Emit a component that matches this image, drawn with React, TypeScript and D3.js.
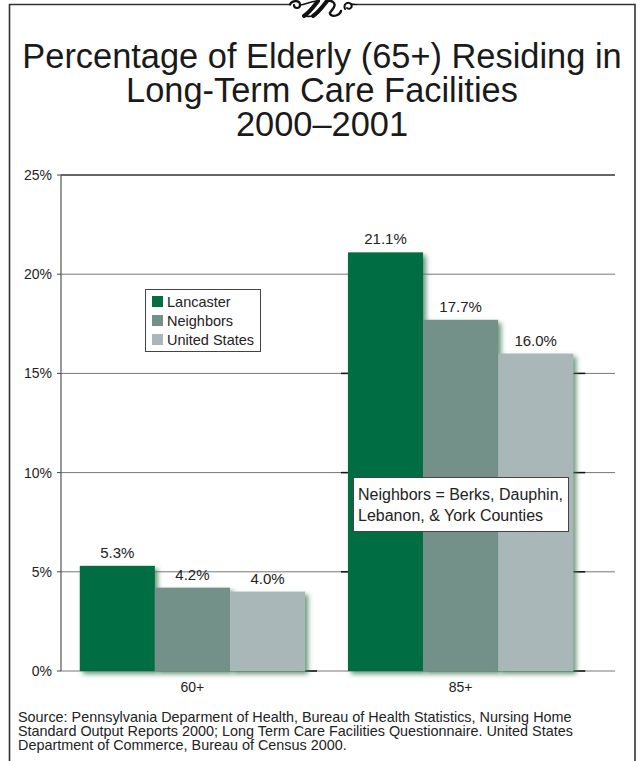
import React from "react";
import * as d3 from "d3";

const categories = ["60+", "85+"];
const seriesNames = ["Lancaster", "Neighbors", "United States"];
const lancaster = [5.3, 21.1];
const neighbors = [4.2, 17.7];
const unitedStates = [4.0, 16.0];
const yTicks = [0, 5, 10, 15, 20, 25];
const titleLines = ["Percentage of Elderly (65+) Residing in", "Long-Term Care Facilities", "2000–2001"];
const sourceLines = [
  "Source: Pennsylvania Deparment of Health, Bureau of Health Statistics, Nursing Home",
  "Standard Output Reports 2000; Long Term Care Facilities Questionnaire. United States",
  "Department of Commerce, Bureau of Census 2000.",
];
const noteLines = ["Neighbors = Berks, Dauphin,", "Lebanon, & York Counties"];
const colors = ["#036d43", "#739189", "#a9b7b9"];

const FONT = "'Liberation Sans', Arial, Helvetica, sans-serif";

export default function App() {
  const W = 640, H = 761;
  const series = [lancaster, neighbors, unitedStates];
  const y = d3.scaleLinear().domain([0, 25]).range([671, 175]);
  const x0 = d3.scaleBand<string>().domain(categories).range([61, 592]).paddingInner(0.16).paddingOuter(0.07);
  const x1 = d3.scaleBand<string>().domain(seriesNames).range([0, x0.bandwidth()]).padding(0);
  const gridRight = 615;

  return (
    <svg width={W} height={H} style={{ position: "absolute", left: 0, top: 0, fontFamily: FONT }}>
      <defs>
        <filter id="glow" x="-20%" y="-20%" width="140%" height="140%">
          <feGaussianBlur in="SourceAlpha" stdDeviation="2.8" result="b" />
          <feOffset in="b" dx="2.5" dy="2.5" result="o" />
          <feFlood floodColor="#417d58" floodOpacity="0.8" />
          <feComposite in2="o" operator="in" result="s" />
          <feMerge>
            <feMergeNode in="s" />
            <feMergeNode in="SourceGraphic" />
          </feMerge>
        </filter>
      </defs>
      <rect x={0} y={0} width={W} height={H} fill="#fff" />
      {/* frame */}
      <path d={`M9.5,${H} V4.5 H291 M356,4.5 H635 V${H}`} fill="none" stroke="#333" strokeWidth={1.6} />
      {/* ornament */}
      <g fill="none" stroke="#111" strokeLinecap="round">
        <path d="M290,4.5 C292,0 300,0 300,5 C300,9 294,9 294,5" strokeWidth={2.2} />
        <path d="M300,5 C306,4 312,1 318,1" strokeWidth={1.6} />
        <path d="M318,1 C314,6 310,12 304,16" strokeWidth={4} />
        <path d="M327,1 C323,6 319,12 313,16" strokeWidth={4} />
        <path d="M304,16 C308,17 311,16 313,16" strokeWidth={1.6} />
        <path d="M327,1 C332,0 336,3 334,7 C332,11 328,13 331,15 C334,17 340,15 341,11" strokeWidth={2.4} />
        <path d="M345,9 C343,4 348,1 351,4 C353,7 350,10 347,8" strokeWidth={2} />
        <path d="M351,4 C353,4.5 354,4.5 356,4.5" strokeWidth={1.6} />
      </g>
      {/* title */}
      {titleLines.map((t, i) => (
        <text key={i} x={322} y={68 + i * 34} textAnchor="middle" fontSize={34.4} fill="#1a1a1a">
          {t}
        </text>
      ))}
      {/* gridlines */}
      {yTicks.map((t) => (
        <g key={t}>
          <line x1={61} x2={gridRight} y1={y(t)} y2={y(t)} stroke={t === 25 ? "#333" : "#777"} strokeWidth={t === 25 ? 1.3 : 1} />
          <line x1={57} x2={61} y1={y(t)} y2={y(t)} stroke="#444" strokeWidth={1} />
          <text x={52} y={y(t) + 5} textAnchor="end" fontSize={14} fill="#222">
            {t}%
          </text>
        </g>
      ))}
      <line x1={61} x2={61} y1={y(25)} y2={y(0)} stroke="#555" strokeWidth={1.2} />
      {/* small dark depth ticks */}
      {categories.map((c, ci) => {
        const minV = Math.min(...series.map((s) => s[ci]));
        const left = x0(c) as number;
        const right = left + x0.bandwidth();
        return (
          <g key={c}>
            {yTicks.filter((t) => t < minV).map((t) => (
              <g key={t}>
                {t > 0 && <line x1={left - 7} x2={left} y1={y(t)} y2={y(t)} stroke="#111" strokeWidth={1.5} />}
                <line x1={right} x2={right + 12} y1={y(t)} y2={y(t)} stroke="#111" strokeWidth={1.5} />
              </g>
            ))}
          </g>
        );
      })}
      {/* bars */}
      {categories.map((c, ci) => (
        <g key={c} transform={`translate(${x0(c)},0)`}>
          {seriesNames.map((s, si) => (
            <rect
              key={s}
              x={x1(s)}
              y={y(series[si][ci])}
              width={x1.bandwidth()}
              height={y(0) - y(series[si][ci])}
              fill={colors[si]}
              filter="url(#glow)"
            />
          ))}
          {seriesNames.map((s, si) => (
            <text
              key={s}
              x={(x1(s) as number) + x1.bandwidth() / 2}
              y={y(series[si][ci]) - 8}
              textAnchor="middle"
              fontSize={15}
              fill="#222"
            >
              {series[si][ci].toFixed(1)}%
            </text>
          ))}
          <text x={x0.bandwidth() / 2} y={692} textAnchor="middle" fontSize={14} fill="#222">
            {c}
          </text>
        </g>
      ))}
      {/* legend */}
      <rect x={145.5} y={289.5} width={115} height={62} fill="#fff" stroke="#444" strokeWidth={1} />
      {seriesNames.map((s, i) => (
        <g key={s}>
          <rect x={152} y={296 + i * 19} width={11} height={11} fill={colors[i]} />
          <text x={167} y={306.5 + i * 19} fontSize={14.5} fill="#222">
            {s}
          </text>
        </g>
      ))}
      {/* note box */}
      <rect x={353.5} y={477.5} width={215} height={54} fill="#fff" stroke="#444" strokeWidth={1} />
      {noteLines.map((t, i) => (
        <text key={i} x={358} y={500 + i * 21} fontSize={16} fill="#222">
          {t}
        </text>
      ))}
      {/* source */}
      {sourceLines.map((t, i) => (
        <text key={i} x={18} y={722 + i * 14} fontSize={14.4} fill="#222">
          {t}
        </text>
      ))}
    </svg>
  );
}
